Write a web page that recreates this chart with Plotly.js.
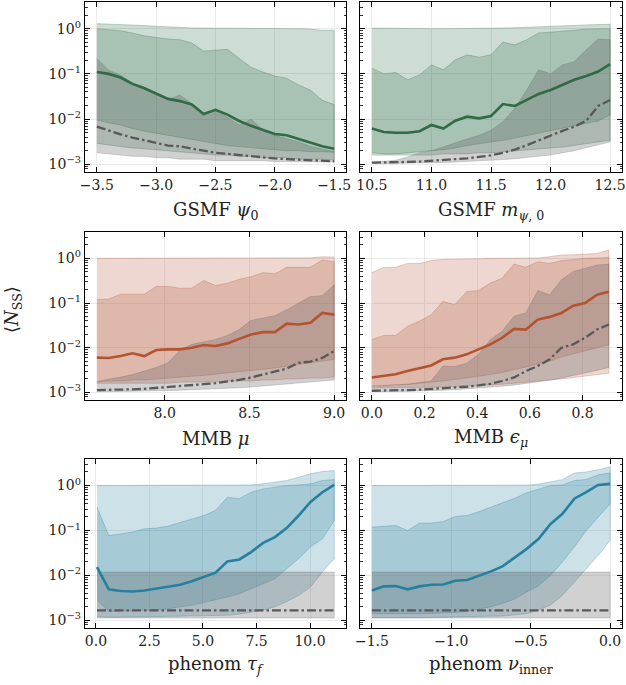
<!DOCTYPE html>
<html>
<head>
<meta charset="utf-8">
<script src="https://cdn.plot.ly/plotly-3.0.1.min.js"></script>
<style>html,body{margin:0;padding:0;background:#fff;}#plot{width:626px;height:685px;}</style>
</head>
<body>
<div id="plot"></div>
<script>
// ---------------- DATA ----------------
// Panel 1: GSMF psi_0
const x1 = [-3.5,-3.4,-3.3,-3.2,-3.1,-3.0,-2.9,-2.8,-2.7,-2.6,-2.5,-2.4,-2.3,-2.2,-2.1,-2.0,-1.9,-1.8,-1.7,-1.6,-1.5];
const med1 = [0.11,0.10,0.083,0.060,0.048,0.037,0.028,0.025,0.021,0.013,0.016,0.0126,0.0091,0.0071,0.0058,0.0047,0.0044,0.0036,0.0030,0.0025,0.0022];
const hi95_1 = [1.29,1.27,1.25,1.22,1.17,1.13,1.09,1.05,1.04,1.03,1.03,1.03,1.03,1.03,1.03,1.02,1.02,1.0,0.98,0.92,0.92];
const hi68_1 = [1.0,0.95,0.90,0.80,0.70,0.64,0.59,0.57,0.48,0.32,0.34,0.35,0.22,0.14,0.11,0.090,0.080,0.057,0.044,0.026,0.021];
const lo68_1 = [0.0095,0.0083,0.0074,0.0062,0.0054,0.0048,0.0044,0.0039,0.0035,0.0032,0.0029,0.0026,0.0025,0.0023,0.0022,0.0021,0.0020,0.0020,0.0019,0.0019,0.00185];
const lo95_1 = [0.0029,0.0027,0.0025,0.0023,0.0022,0.0021,0.0020,0.0019,0.0018,0.0017,0.0016,0.0016,0.0015,0.0015,0.0014,0.0014,0.0014,0.0013,0.0013,0.0013,0.00125];
const gmed1 = [0.0068,0.0055,0.0046,0.0039,0.0034,0.0029,0.0026,0.0025,0.0022,0.0020,0.0018,0.0017,0.0016,0.0015,0.0014,0.00135,0.0013,0.00126,0.00123,0.0012,0.00117];
const ghi1 = [0.22,0.12,0.095,0.062,0.051,0.038,0.027,0.034,0.022,0.013,0.016,0.011,0.0074,0.010,0.0057,0.0044,0.0037,0.0031,0.0025,0.0022,0.0019];
const glo1 = [0.0018,0.0017,0.0016,0.0015,0.0015,0.0014,0.0014,0.0013,0.0013,0.0013,0.0012,0.0012,0.0012,0.0012,0.0012,0.00115,0.00115,0.00113,0.00113,0.00112,0.00112];

// Panel 2: GSMF m_psi,0
const x2 = [10.5,10.6,10.7,10.8,10.9,11.0,11.1,11.2,11.3,11.4,11.5,11.6,11.7,11.8,11.9,12.0,12.1,12.2,12.3,12.4,12.5];
const med2 = [0.0062,0.0052,0.0050,0.0050,0.0054,0.0074,0.0062,0.0092,0.0113,0.0104,0.0117,0.0215,0.0195,0.0264,0.036,0.044,0.057,0.074,0.090,0.113,0.164];
const hi95_2 = [1.03,1.02,1.0,0.99,0.99,1.0,1.0,1.0,1.0,1.0,1.02,1.03,1.05,1.08,1.12,1.15,1.17,1.19,1.21,1.23,1.25];
const hi68_2 = [0.134,0.10,0.107,0.074,0.095,0.158,0.123,0.205,0.264,0.234,0.264,0.506,0.44,0.57,0.80,0.83,0.87,0.92,0.98,1.0,1.0];
const lo68_2 = [0.0018,0.0017,0.0017,0.0018,0.0019,0.0020,0.0021,0.0023,0.0026,0.0029,0.0031,0.0034,0.0038,0.0043,0.0049,0.0055,0.0062,0.0071,0.0081,0.0091,0.0123];
const lo95_2 = [0.0016,0.0016,0.0016,0.0016,0.0016,0.0016,0.0017,0.0017,0.0017,0.0018,0.0018,0.0019,0.0020,0.0021,0.0022,0.0023,0.0024,0.0026,0.0028,0.0031,0.0034];
const gmed2 = [0.00109,0.00109,0.00111,0.00113,0.00115,0.00119,0.00123,0.00129,0.00136,0.00146,0.00158,0.00179,0.00212,0.00264,0.0034,0.0044,0.0055,0.0068,0.0092,0.0195,0.0264];
const ghi2 = [0.0011,0.00115,0.00123,0.00146,0.00179,0.0020,0.0024,0.0030,0.0037,0.0044,0.0057,0.0087,0.0173,0.044,0.123,0.10,0.158,0.188,0.34,0.59,0.57];
const glo2 = [0.00104,0.00104,0.00105,0.00106,0.00107,0.00108,0.0011,0.00112,0.00115,0.00118,0.00122,0.00127,0.00133,0.0014,0.0015,0.0016,0.0018,0.002,0.0023,0.0027,0.0031];

// Panel 3: MMB mu
const x3 = [7.6,7.67,7.74,7.81,7.88,7.95,8.02,8.09,8.16,8.23,8.3,8.37,8.44,8.51,8.58,8.65,8.72,8.79,8.86,8.93,9.0];
const med3 = [0.0060,0.0059,0.0065,0.0075,0.0065,0.0089,0.0092,0.0092,0.0100,0.0115,0.0109,0.0125,0.0158,0.0198,0.0223,0.0223,0.0347,0.033,0.036,0.060,0.055];
const hi95_3 = [1.0,1.0,1.0,1.0,1.0,1.0,1.0,1.0,1.0,1.0,1.0,1.0,1.0,1.0,1.0,1.01,1.01,1.02,1.03,1.08,1.07];
const hi68_3 = [0.119,0.123,0.158,0.158,0.158,0.235,0.235,0.215,0.215,0.32,0.247,0.278,0.34,0.39,0.48,0.45,0.63,0.63,0.63,0.92,0.84];
const lo68_3 = [0.00173,0.0018,0.0018,0.0019,0.0019,0.0020,0.0021,0.0022,0.0023,0.0024,0.0025,0.0027,0.0029,0.0031,0.0033,0.0035,0.0038,0.0041,0.0045,0.0050,0.0055];
const lo95_3 = [0.0016,0.0016,0.0016,0.0016,0.0016,0.0016,0.0016,0.0017,0.0017,0.0017,0.0017,0.0018,0.0018,0.0018,0.0019,0.0019,0.0020,0.0020,0.0021,0.0021,0.0022];
const gmed3 = [0.00113,0.00113,0.00115,0.00117,0.0012,0.00125,0.00131,0.00138,0.00146,0.00153,0.00161,0.00173,0.00191,0.00216,0.0025,0.0029,0.0034,0.0046,0.0049,0.0059,0.0084];
const ghi3 = [0.00173,0.0020,0.0022,0.0025,0.0030,0.0036,0.0046,0.0089,0.0119,0.0136,0.0153,0.0188,0.0255,0.041,0.046,0.052,0.071,0.10,0.14,0.146,0.255];
const glo3 = [0.00104,0.00104,0.00105,0.00106,0.00107,0.00108,0.0011,0.00112,0.00114,0.00117,0.0012,0.00123,0.00127,0.00132,0.00137,0.00143,0.0015,0.0016,0.0017,0.0018,0.0019];

// Panel 4: MMB eps_mu
const x4 = [0,0.045,0.09,0.135,0.18,0.225,0.27,0.315,0.36,0.405,0.45,0.495,0.54,0.585,0.63,0.675,0.72,0.765,0.81,0.855,0.9];
const med4 = [0.00216,0.00235,0.00255,0.0030,0.0034,0.0040,0.0055,0.0060,0.0071,0.0092,0.0119,0.0167,0.0264,0.0255,0.0426,0.049,0.060,0.087,0.10,0.153,0.179];
const hi95_4 = [0.48,0.62,0.63,0.77,0.77,0.89,0.95,0.95,0.97,0.98,1.0,1.0,1.0,1.0,1.02,1.09,1.19,1.2,1.25,1.29,1.53];
const hi68_4 = [0.0153,0.0188,0.0188,0.030,0.039,0.055,0.109,0.092,0.18,0.19,0.28,0.36,0.75,0.63,0.84,0.77,0.89,0.95,1.0,1.02,1.05];
const lo68_4 = [0.0014,0.0014,0.0015,0.0015,0.0016,0.0017,0.0018,0.0019,0.0021,0.0023,0.0025,0.0028,0.0032,0.0037,0.0044,0.0050,0.0062,0.0072,0.0085,0.010,0.0117];
const lo95_4 = [0.00125,0.00125,0.00126,0.00127,0.00128,0.0013,0.00132,0.00135,0.00138,0.00142,0.00147,0.00153,0.0016,0.00168,0.00178,0.0019,0.002,0.0021,0.0023,0.0025,0.0027];
const gmed4 = [0.00109,0.00109,0.0011,0.00113,0.00115,0.00119,0.00123,0.00127,0.00134,0.00143,0.00156,0.0018,0.00216,0.0030,0.0039,0.0055,0.010,0.0119,0.0167,0.0255,0.033];
const ghi4 = [0.00136,0.0014,0.00146,0.00153,0.00167,0.0018,0.0039,0.0038,0.0045,0.0071,0.0153,0.0235,0.051,0.060,0.19,0.153,0.33,0.51,0.60,0.71,0.74];
const glo4 = [0.00104,0.00104,0.00105,0.00106,0.00107,0.00109,0.00112,0.00115,0.00119,0.00124,0.0013,0.00137,0.00146,0.00157,0.0017,0.00187,0.0021,0.0024,0.0027,0.0031,0.0036];

// Panel 5: phenom tau_f
const x5 = [0.05,0.6,1.16,1.71,2.27,2.82,3.37,3.93,4.48,5.04,5.59,6.14,6.7,7.25,7.81,8.36,8.91,9.47,10.02,10.58,11.13];
const med5 = [0.0153,0.0049,0.0045,0.0044,0.0046,0.0051,0.0055,0.0062,0.0074,0.0092,0.0115,0.0205,0.0227,0.033,0.053,0.071,0.113,0.215,0.43,0.71,1.03];
const hi95_5 = [1.0,1.0,1.0,1.0,1.0,1.0,1.0,1.0,1.0,1.0,1.0,1.0,1.0,1.03,1.09,1.19,1.29,1.53,1.82,2.05,2.15];
const hi68_5 = [0.33,0.077,0.084,0.092,0.109,0.113,0.125,0.153,0.18,0.215,0.28,0.55,0.51,0.71,0.84,0.92,1.0,1.03,1.09,1.29,1.36];
const lo68_5 = [0.0028,0.00158,0.00162,0.00162,0.00167,0.00173,0.0018,0.0020,0.00216,0.00255,0.0029,0.0033,0.0039,0.0051,0.0065,0.0084,0.0141,0.0235,0.043,0.065,0.167];
const lo95_5 = [0.0012,0.00118,0.00118,0.0012,0.0012,0.0012,0.00122,0.00124,0.00126,0.00128,0.0013,0.0013,0.00137,0.0015,0.0017,0.0020,0.0026,0.0036,0.0055,0.012,0.0235];
const gx5 = [0.05,11.13];
const gmed5 = [0.00167,0.00167];
const ghi5 = [0.0119,0.0119];
const glo5 = [0.00113,0.00113];

// Panel 6: phenom nu_inner
const x6 = [-1.5,-1.425,-1.35,-1.275,-1.2,-1.125,-1.05,-0.975,-0.9,-0.825,-0.75,-0.675,-0.6,-0.525,-0.45,-0.375,-0.3,-0.225,-0.15,-0.075,0.0];
const med6 = [0.0046,0.0057,0.0058,0.0049,0.0057,0.0062,0.0063,0.0076,0.0079,0.0097,0.0123,0.0161,0.0255,0.039,0.065,0.14,0.235,0.51,0.71,1.03,1.09];
const hi95_6 = [1.0,1.0,1.0,1.0,1.0,1.0,1.0,1.0,1.0,1.0,1.0,1.0,1.0,1.02,1.08,1.2,1.35,1.9,2.0,2.25,2.6];
const hi68_6 = [0.119,0.125,0.129,0.10,0.146,0.146,0.158,0.205,0.215,0.264,0.33,0.41,0.52,0.69,0.84,1.0,1.03,1.29,1.36,1.73,1.91];
const lo68_6 = [0.0014,0.0014,0.0014,0.0014,0.0014,0.0014,0.00145,0.0015,0.00158,0.0018,0.002,0.0024,0.003,0.0043,0.0059,0.010,0.020,0.043,0.10,0.198,0.39];
const lo95_6 = [0.00115,0.00115,0.00115,0.00115,0.00115,0.00116,0.00117,0.00118,0.0012,0.00122,0.00124,0.00125,0.00131,0.0014,0.0017,0.0022,0.0036,0.007,0.014,0.028,0.060];
const gx6 = [-1.5,0.0];
const gmed6 = [0.00167,0.00167];
const ghi6 = [0.0119,0.0119];
const glo6 = [0.00113,0.00113];

const xTitles = ['GSMF <i>ψ</i><sub>0</sub>','GSMF <i>m</i><sub><i>ψ</i>, 0</sub>','MMB <i>μ</i>','MMB <i>ϵ</i><sub><i>μ</i></sub>','phenom <i>τ</i><sub><i>f</i></sub>','phenom <i>ν</i><sub>inner</sub>'];
const xTicks = [[-3.5,-3.0,-2.5,-2.0,-1.5],[10.5,11.0,11.5,12.0,12.5],[8.0,8.5,9.0],[0.0,0.2,0.4,0.6,0.8],[0.0,2.5,5.0,7.5,10.0],[-1.5,-1.0,-0.5,0.0]];
const yTickVals = [0.001,0.01,0.1,1];
const yTickText = ['10<sup>−3</sup>','10<sup>−2</sup>','10<sup>−1</sup>','10<sup>0</sup>'];
const yLabel = '⟨<i>N</i><sub>SS</sub>⟩';

// ---------------- STYLE ----------------
const W = 626, H = 685;
const colX = [[85,346],[360,622]];
const rowY = [[2,172],[232,400],[459,628]];
const xRanges = [[-3.6,-1.4],[10.4,12.6],[7.53,9.07],[-0.045,0.95],[-0.51,11.68],[-1.575,0.075]];
const yRange = [-3.17,0.59];
const rowColors = [
  {line:'#2e6b46', fill:'rgba(45,106,69,0.23)', edge:'rgba(45,106,69,0.35)'},
  {line:'#b4532f', fill:'rgba(178,84,50,0.23)', edge:'rgba(178,84,50,0.35)'},
  {line:'#25809f', fill:'rgba(40,125,155,0.23)', edge:'rgba(40,125,155,0.35)'}
];
const grayFill = 'rgba(90,90,90,0.28)', grayEdge = 'rgba(90,90,90,0.3)';
const FONT = 'DejaVu Serif';

const panels = [
  {x:x1, med:med1, hi95:hi95_1, hi68:hi68_1, lo68:lo68_1, lo95:lo95_1, gx:x1, gmed:gmed1, ghi:ghi1, glo:glo1},
  {x:x2, med:med2, hi95:hi95_2, hi68:hi68_2, lo68:lo68_2, lo95:lo95_2, gx:x2, gmed:gmed2, ghi:ghi2, glo:glo2},
  {x:x3, med:med3, hi95:hi95_3, hi68:hi68_3, lo68:lo68_3, lo95:lo95_3, gx:x3, gmed:gmed3, ghi:ghi3, glo:glo3},
  {x:x4, med:med4, hi95:hi95_4, hi68:hi68_4, lo68:lo68_4, lo95:lo95_4, gx:x4, gmed:gmed4, ghi:ghi4, glo:glo4},
  {x:x5, med:med5, hi95:hi95_5, hi68:hi68_5, lo68:lo68_5, lo95:lo95_5, gx:gx5, gmed:gmed5, ghi:ghi5, glo:glo5},
  {x:x6, med:med6, hi95:hi95_6, hi68:hi68_6, lo68:lo68_6, lo95:lo95_6, gx:gx6, gmed:gmed6, ghi:ghi6, glo:glo6}
];

function band(x, lo, hi, fill, edge, xa, ya){
  return {type:'scatter', mode:'lines', x:x.concat(x.slice().reverse()), y:hi.concat(lo.slice().reverse()),
    fill:'toself', fillcolor:fill, line:{color:edge, width:0.8}, xaxis:xa, yaxis:ya, hoverinfo:'skip', showlegend:false};
}

const minorVals = [];
[0.0001,0.001,0.01,0.1,1].forEach(d=>{for(let k=2;k<=9;k++) minorVals.push(k*d);});

const data = [];
const layout = {width:W, height:H, margin:{l:0,r:0,t:0,b:0}, paper_bgcolor:'#fff', plot_bgcolor:'#fff',
  showlegend:false, font:{family:FONT, size:14, color:'#000'}, annotations:[]};

panels.forEach((p,i)=>{
  const r = Math.floor(i/2), c = i%2;
  const n = i+1;
  const xa = n===1 ? 'x' : 'x'+n, ya = n===1 ? 'y' : 'y'+n;
  const col = rowColors[r];
  data.push(band(p.x, p.lo95, p.hi95, col.fill, col.edge, xa, ya));
  data.push(band(p.x, p.lo68, p.hi68, col.fill, col.edge, xa, ya));
  data.push(band(p.gx, p.glo, p.ghi, grayFill, grayEdge, xa, ya));
  data.push({type:'scatter', mode:'lines', x:p.x, y:p.med, line:{color:col.line, width:2.6}, xaxis:xa, yaxis:ya, showlegend:false});
  data.push({type:'scatter', mode:'lines', x:p.gx, y:p.gmed, line:{color:'#595959', width:2.3, dash:'9px,3px,2.5px,3px'}, xaxis:xa, yaxis:ya, showlegend:false});

  const xk = n===1 ? 'xaxis' : 'xaxis'+n, yk = n===1 ? 'yaxis' : 'yaxis'+n;
  layout[xk] = {domain:[colX[c][0]/W, colX[c][1]/W], anchor:ya, range:xRanges[i], tickmode:'array', tickvals:xTicks[i],
    tickformat:'.1f', ticks:'inside', ticklen:5, tickwidth:1, tickcolor:'#000', showline:true, linecolor:'#000', linewidth:1.3,
    mirror:'ticks', showgrid:true, gridcolor:'#ebebeb', gridwidth:1, zeroline:false, tickfont:{family:FONT, size:14, color:'#222'}, fixedrange:true};
  layout[yk] = {domain:[1-rowY[r][1]/H, 1-rowY[r][0]/H], anchor:xa, type:'log', range:yRange, tickmode:'array', tickvals:yTickVals,
    ticktext:yTickText, showticklabels:c===0, ticks:'inside', ticklen:5, tickwidth:1, tickcolor:'#000', showline:true, linecolor:'#000', linewidth:1.3,
    mirror:'ticks', showgrid:true, gridcolor:'#ebebeb', gridwidth:1, zeroline:false, tickfont:{family:FONT, size:14, color:'#222'},
    minor:{tickmode:'array', tickvals:minorVals, ticks:'inside', ticklen:2.5, tickwidth:0.8, tickcolor:'#000', showgrid:false}, fixedrange:true};

  const ty = [211,438,665][r];
  layout.annotations.push({text:xTitles[i], xref:'paper', yref:'paper', x:(colX[c][0]+colX[c][1])/2/W, y:1-ty/H,
    xanchor:'center', yanchor:'middle', showarrow:false, font:{family:FONT, size:18, color:'#222'}});
});

layout.annotations.push({text:yLabel, xref:'paper', yref:'paper', x:13/W, y:1-310/H, xanchor:'center', yanchor:'middle',
  textangle:-90, showarrow:false, font:{family:FONT, size:18, color:'#222'}});

Plotly.newPlot('plot', data, layout, {displayModeBar:false, staticPlot:true});
</script>
</body>
</html>
